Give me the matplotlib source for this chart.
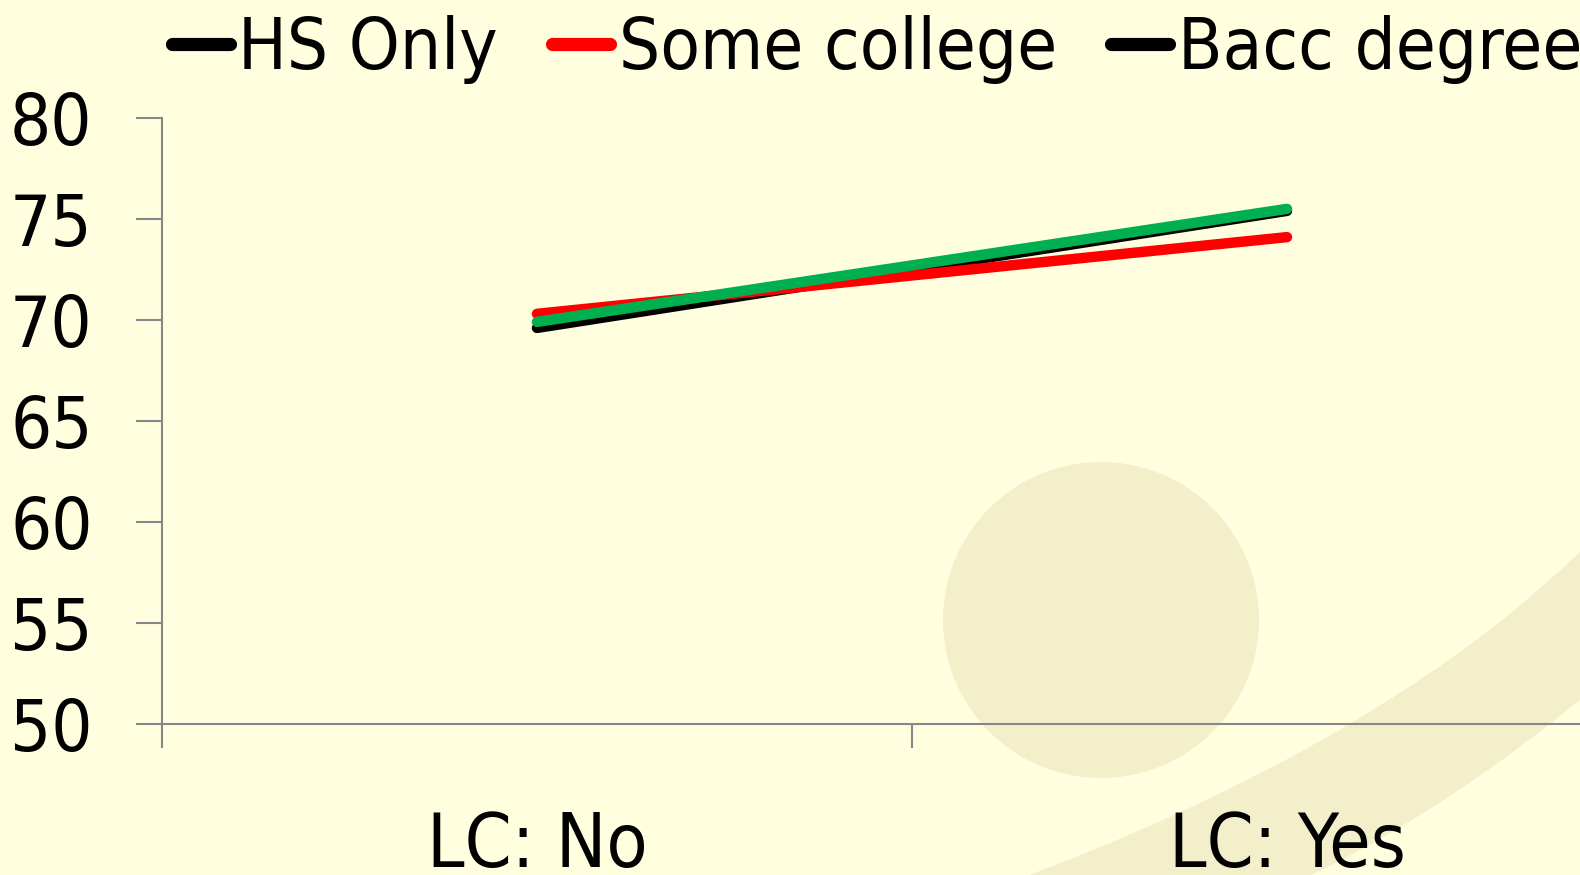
import matplotlib
matplotlib.use("Agg")
import matplotlib.pyplot as plt
from matplotlib.lines import Line2D
from matplotlib.patches import Circle, PathPatch
from matplotlib.path import Path

# data
categories = ["LC: No", "LC: Yes"]
series_names = ["HS Only", "Some college", "Bacc degree"]
hs_only = [69.6, 75.4]
some_college = [70.3, 74.1]
bacc_degree = [69.9, 75.5]
y_ticks = [50, 55, 60, 65, 70, 75, 80]

BG = "#FFFFE0"
DECO = "#F4EFCB"
AXIS_GREY = "#878787"

plt.rcParams["font.family"] = ["DejaVu Sans"]
plt.rcParams["font.stretch"] = "condensed"

fig = plt.figure(figsize=(15.8, 8.75), dpi=100, facecolor=BG)

# background decoration (pixel space of the whole figure)
deco = fig.add_axes([0, 0, 1, 1], zorder=0)
deco.set_xlim(0, 1580)
deco.set_ylim(875, 0)
deco.axis("off")
deco.add_patch(Circle((1101, 620), 158, color=DECO, lw=0))
band_verts = [(1000, 886), (1396, 741), (1600, 532),
              (1600, 683), (1443, 816), (1290, 885),
              (1000, 886)]
band_codes = [Path.MOVETO, Path.CURVE3, Path.CURVE3,
              Path.LINETO, Path.CURVE3, Path.CURVE3,
              Path.CLOSEPOLY]
deco.add_patch(PathPatch(Path(band_verts, band_codes), color=DECO, lw=0))

ax = fig.add_axes([0.1025, 0.1731, 0.9494, 0.692], zorder=1)
ax.set_facecolor("none")

x = [0.5, 1.5]
line_kw = dict(linewidth=7.5, solid_capstyle="round")
ax.plot(x, hs_only, color="black", **line_kw)
ax.plot(x, some_college, color="#FF0000", **line_kw)
ax.plot(x, bacc_degree, color="#00B050", **line_kw)

ax.set_xlim(0, 2)
ax.set_ylim(50, 80)
ax.set_yticks(y_ticks)
ax.set_yticklabels([str(v) for v in y_ticks])
ax.set_xticks([0, 1, 2])
ax.set_xticklabels(["", "", ""])
ax.set_xticks(x, minor=True)
ax.set_xticklabels(categories, minor=True)

for side in ["top", "right"]:
    ax.spines[side].set_visible(False)
for side in ["left", "bottom"]:
    ax.spines[side].set_color(AXIS_GREY)
    ax.spines[side].set_linewidth(1.5)

ax.tick_params(axis="y", direction="out", length=19, width=1.5, color=AXIS_GREY,
               pad=31, labelsize=52, labelcolor="black")
ax.tick_params(axis="x", which="major", direction="out", length=17, width=1.5,
               color=AXIS_GREY)
ax.tick_params(axis="x", which="minor", length=0, pad=62, labelsize=54,
               labelcolor="black")

# legend: the reference shows a black key for the green series
handles = [
    Line2D([], [], color="black", linewidth=9.5, solid_capstyle="round"),
    Line2D([], [], color="#FF0000", linewidth=9.5, solid_capstyle="round"),
    Line2D([], [], color="black", linewidth=9.5, solid_capstyle="round"),
]
fig.legend(handles, series_names, loc="center left",
           bbox_to_anchor=(172 / 1580, 1 - 50 / 875), ncol=3, frameon=False,
           fontsize=52, handlelength=0.8, handletextpad=0.12,
           columnspacing=0.75, borderpad=0, borderaxespad=0)

fig.savefig("out.png", dpi=100, facecolor=BG)
